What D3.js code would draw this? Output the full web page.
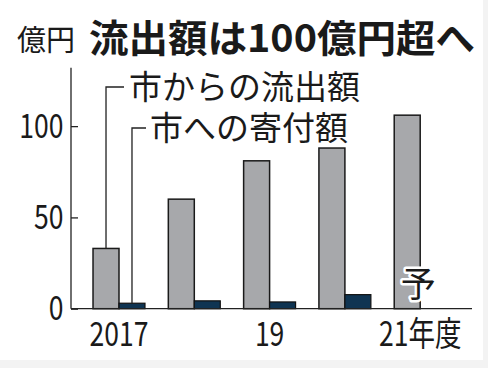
<!DOCTYPE html>
<html><head><meta charset="utf-8">
<script src="https://cdn.jsdelivr.net/npm/d3@7"></script>
<style>
html,body{margin:0;padding:0;background:#fff;}
svg{display:block;}
</style></head>
<body>
<svg id="chart" width="488" height="368"></svg>
<script>
const categories = ["2017", "18", "19", "20", "21"];
const tickLabels = ["2017", "", "19", "", "21年度"];
const outflow = [33, 60, 81, 88, 106];
const donations = [3, 4.3, 3.7, 7.7, null];
const yTicks = [0, 50, 100];
const seriesNames = ["市からの流出額", "市への寄付額"];
const title = "流出額は100億円超へ";
const unitLabel = "億円";
const forecastLabel = "予";

const W = 488, H = 368;
const svg = d3.select("#chart");
const jp = "'Noto Sans CJK JP', sans-serif";
const narrow = 0.78;

svg.append("rect").attr("width", W).attr("height", H).attr("fill", "#f3f3f3");
svg.append("rect").attr("width", 483).attr("height", 360).attr("fill", "#fff");

const y = d3.scaleLinear().domain([0, 132]).range([308.7, 67.7]);
const x = d3.scaleBand().domain(categories).range([81.35, 457.85]).paddingInner(0.31).paddingOuter(0.155);
const xs = d3.scaleBand().domain([0, 1]).range([0, x.bandwidth()]);

// bars
const g = svg.append("g");
categories.forEach((c, i) => {
  g.append("rect")
    .attr("x", x(c) + xs(0)).attr("width", xs.bandwidth())
    .attr("y", y(outflow[i])).attr("height", y(0) - y(outflow[i]))
    .attr("fill", "#a7a8ab").attr("stroke", "#1a1a1a").attr("stroke-width", 1.5);
  if (donations[i] != null) {
    g.append("rect")
      .attr("x", x(c) + xs(1)).attr("width", xs.bandwidth())
      .attr("y", y(donations[i])).attr("height", y(0) - y(donations[i]))
      .attr("fill", "#0f3452").attr("stroke", "#111").attr("stroke-width", 1.2);
  }
});

// axes
const yAxis = d3.axisRight(y).tickValues(yTicks).tickSize(7).tickFormat(d3.format("d"));
const ya = svg.append("g").attr("transform", "translate(71,0)").call(yAxis);
ya.select(".domain").attr("d", `M0,${y(132)}V${y(0)}`).attr("stroke", "#222").attr("stroke-width", 1.3);
ya.selectAll(".tick line").attr("stroke", "#222").attr("stroke-width", 1.3);
ya.selectAll(".tick text").attr("x", 0).attr("text-anchor", "end").attr("dy", "0.33em")
  .attr("transform", `translate(-7.5,0) scale(${narrow},1)`)
  .attr("font-family", jp).attr("font-size", 34).attr("fill", "#1a1a1a");

svg.append("line").attr("x1", 71).attr("x2", 472).attr("y1", y(0)).attr("y2", y(0))
  .attr("stroke", "#222").attr("stroke-width", 1.3);

const xa = svg.append("g");
categories.forEach((c, i) => {
  xa.append("text")
    .attr("transform", `translate(${x(c) + x.bandwidth() / 2},346) scale(${narrow},1)`)
    .attr("text-anchor", "middle").attr("font-family", jp).attr("font-size", 34)
    .attr("fill", "#1a1a1a").text(tickLabels[i]);
});

// leader lines & legend labels
const c0 = categories[0];
const lx1 = x(c0) + xs(0) + xs.bandwidth() / 2;
const lx2 = x(c0) + xs(1) + xs.bandwidth() / 2;
svg.append("path").attr("d", `M${lx1},${y(outflow[0])}V87H124`)
  .attr("fill", "none").attr("stroke", "#222").attr("stroke-width", 1.3);
svg.append("path").attr("d", `M${lx2},${y(donations[0])}V128H146`)
  .attr("fill", "none").attr("stroke", "#222").attr("stroke-width", 1.3);
svg.append("text").attr("x", 129).attr("y", 99).attr("font-family", jp).attr("font-size", 33)
  .attr("fill", "#1a1a1a").text(seriesNames[0]);
svg.append("text").attr("x", 150).attr("y", 140).attr("font-family", jp).attr("font-size", 33)
  .attr("fill", "#1a1a1a").text(seriesNames[1]);

// forecast label
const c4 = categories[4];
svg.append("text").attr("x", x(c4) + x.bandwidth() / 2 - 2).attr("y", 297)
  .attr("text-anchor", "middle").attr("font-family", jp).attr("font-size", 35)
  .attr("fill", "#1a1a1a").attr("stroke", "#fff").attr("stroke-width", 5)
  .attr("paint-order", "stroke").attr("stroke-linejoin", "round").text(forecastLabel);

// title
svg.append("text").attr("x", 17).attr("y", 51).attr("font-family", jp).attr("font-size", 29)
  .attr("fill", "#1a1a1a").text(unitLabel);
svg.append("text").attr("x", 89).attr("y", 52).attr("font-family", jp).attr("font-size", 38)
  .attr("font-weight", "bold").attr("fill", "#1a1a1a")
  .attr("textLength", 386).attr("lengthAdjust", "spacingAndGlyphs").text(title);
</script>
</body></html>
